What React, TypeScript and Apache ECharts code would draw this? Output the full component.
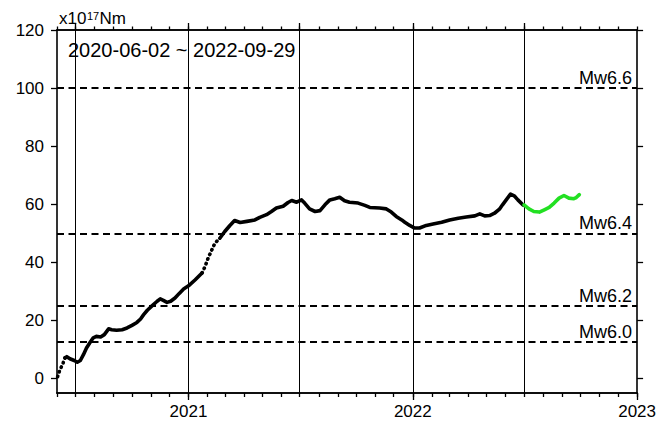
import React, { useEffect, useRef } from "react";
import * as echarts from "echarts";

// Cumulative moment (x10^17 Nm), black part
const BLACK_DATES = [
  "2020-06-02", "2020-06-06", "2020-06-10", "2020-06-14", "2020-06-17", "2020-06-22", "2020-06-29",
  "2020-07-04", "2020-07-09", "2020-07-14", "2020-07-19", "2020-07-25", "2020-07-30", "2020-08-04",
  "2020-08-11", "2020-08-17", "2020-08-24", "2020-08-29", "2020-09-06", "2020-09-15", "2020-09-23",
  "2020-10-01", "2020-10-09", "2020-10-15", "2020-10-20", "2020-10-26", "2020-11-03", "2020-11-11",
  "2020-11-16", "2020-11-21", "2020-11-27", "2020-12-03", "2020-12-10", "2020-12-17", "2020-12-24",
  "2021-01-01", "2021-01-12", "2021-01-23", "2021-01-28", "2021-02-02", "2021-02-08", "2021-02-13",
  "2021-02-21", "2021-03-01", "2021-03-09", "2021-03-17", "2021-03-26", "2021-04-06", "2021-04-19",
  "2021-04-27", "2021-05-08", "2021-05-16", "2021-05-24", "2021-06-04", "2021-06-12", "2021-06-18",
  "2021-06-26", "2021-07-04", "2021-07-09", "2021-07-17", "2021-07-26", "2021-08-03", "2021-08-11",
  "2021-08-19", "2021-08-27", "2021-09-04", "2021-09-12", "2021-09-20", "2021-10-04", "2021-10-15",
  "2021-10-23", "2021-11-08", "2021-11-19", "2021-11-27", "2021-12-05", "2021-12-14", "2021-12-19",
  "2021-12-27", "2022-01-04", "2022-01-12", "2022-01-23", "2022-02-03", "2022-02-17", "2022-03-02",
  "2022-03-16", "2022-03-29", "2022-04-12", "2022-04-20", "2022-04-28", "2022-05-06", "2022-05-14",
  "2022-05-22", "2022-05-27", "2022-06-02", "2022-06-09", "2022-06-15", "2022-06-21", "2022-06-29",
  "2022-07-01",
];
const BLACK_VALUES = [
  0.6, 3.1, 4.8, 7.1, 7.5, 6.8, 6.2,
  5.6, 6.2, 8.2, 10.5, 12.5, 14.0, 14.5,
  14.3, 15.1, 17.1, 16.8, 16.6, 16.8, 17.4,
  18.3, 19.3, 20.5, 22.0, 23.5, 25.1, 26.6,
  27.4, 26.9, 26.2, 26.6, 27.7, 29.3, 30.8,
  31.9, 34.0, 36.3, 38.6, 41.5, 44.3, 46.6,
  48.3, 50.6, 52.6, 54.4, 53.7, 54.1, 54.6,
  55.5, 56.4, 57.5, 58.7, 59.3, 60.6, 61.3,
  60.7, 61.5, 60.4, 58.4, 57.5, 57.8, 59.8,
  61.5, 61.9, 62.4, 61.2, 60.7, 60.4, 59.6,
  58.9, 58.7, 58.4, 57.3, 55.8, 54.6, 53.8,
  52.7, 51.8, 51.8, 52.7, 53.2, 53.8, 54.6,
  55.2, 55.6, 56.0, 56.7, 56.0, 56.1, 56.9,
  58.3, 59.8, 61.5, 63.5, 62.9, 61.5, 59.8,
  59.6,
];

// Green (latest) part
const GREEN_DATES = [
  "2022-07-01", "2022-07-09", "2022-07-17", "2022-07-26", "2022-08-03", "2022-08-11", "2022-08-19",
  "2022-08-27", "2022-09-04", "2022-09-12", "2022-09-20", "2022-09-24", "2022-09-29",
];
const GREEN_VALUES = [59.8, 58.4, 57.5, 57.3, 58.1, 58.9, 60.4, 62.1, 63.0, 62.1, 61.9, 62.3, 63.3];

// Stretches where the daily dots are visibly separated (fast growth)
const SPARSE_RANGES = [
  ["2020-06-02", "2020-06-14"],
  ["2021-01-23", "2021-02-21"],
];

// Reference magnitude levels
const LEVEL_NAMES = ["Mw6.6", "Mw6.4", "Mw6.2", "Mw6.0"];
const LEVEL_VALUES = [100, 50, 25, 12.5];

const HALF_YEAR_LINES = ["2020-07-01", "2021-01-01", "2021-07-01", "2022-01-01", "2022-07-01"];
const YEAR_TICKS = ["2021-01-01", "2022-01-01", "2023-01-01"];
const Y_TICKS = [0, 20, 40, 60, 80, 100, 120];

const X_MIN = "2020-06-01";
const X_MAX = "2023-01-01";
const TITLE = "2020-06-02 ~ 2022-09-29";

const parse = (s: string) => {
  const [y, m, d] = s.split("-").map(Number);
  return Date.UTC(y, m - 1, d);
};

const monthTicks = () => {
  const out: number[] = [];
  for (let y = 2020; y <= 2023; y++) {
    for (let m = 0; m < 12; m++) {
      const t = Date.UTC(y, m, 1);
      if (t >= parse(X_MIN) && t <= parse(X_MAX)) out.push(t);
    }
  }
  return out;
};

// Split the black series into solid / sparse pieces
const blackPieces = () => {
  const pts = BLACK_DATES.map((d, i) => [parse(d), BLACK_VALUES[i]]);
  const ranges = SPARSE_RANGES.map(([a, b]) => [parse(a), parse(b)]);
  const pieces: { sparse: boolean; data: number[][] }[] = [];
  let cur: { sparse: boolean; data: number[][] } | null = null;
  for (let i = 0; i < pts.length - 1; i++) {
    const a = pts[i][0];
    const b = pts[i + 1][0];
    const sparse = ranges.some(([s, e]) => a >= s && b <= e);
    if (!cur || cur.sparse !== sparse) {
      cur = { sparse, data: [pts[i]] };
      pieces.push(cur);
    }
    cur.data.push(pts[i + 1]);
  }
  return pieces;
};

export default function App() {
  const ref = useRef<HTMLDivElement>(null);
  useEffect(() => {
    if (!ref.current) return;
    const chart = echarts.init(ref.current, undefined, { renderer: "svg" });
    const xmin = parse(X_MIN);
    const xmax = parse(X_MAX);
    const months = monthTicks();
    const font = "'Liberation Sans', Arial, Helvetica, sans-serif";
    const axisLine = { show: true, onZero: false, lineStyle: { color: "#000", width: 1.6 } };
    const tickStyle = { color: "#000", width: 1.3 };

    const baseX = {
      type: "value" as const,
      min: xmin,
      max: xmax,
      splitLine: { show: false },
      axisLine,
    };

    const option: any = {
      animation: false,
      textStyle: { fontFamily: font },
      grid: { left: 57, right: 20, top: 30, bottom: 29, containLabel: false },
      xAxis: [
        {
          ...baseX,
          position: "bottom",
          axisTick: { show: true, inside: false, length: 7, customValues: YEAR_TICKS.map(parse), lineStyle: tickStyle },
          axisLabel: {
            show: true,
            customValues: YEAR_TICKS.map(parse),
            formatter: (v: number) => String(new Date(v).getUTCFullYear()),
            color: "#000",
            fontSize: 17,
            fontFamily: font,
            margin: 10,
          },
        },
        {
          ...baseX,
          position: "bottom",
          axisTick: { show: true, inside: false, length: 4, customValues: months, lineStyle: tickStyle },
          axisLabel: { show: false, customValues: months },
        },
        {
          ...baseX,
          position: "top",
          axisTick: { show: true, inside: false, length: 7, customValues: HALF_YEAR_LINES.map(parse), lineStyle: tickStyle },
          axisLabel: { show: false, customValues: HALF_YEAR_LINES.map(parse) },
        },
        {
          ...baseX,
          position: "top",
          axisTick: { show: true, inside: false, length: 3.5, customValues: months, lineStyle: tickStyle },
          axisLabel: { show: false, customValues: months },
        },
      ],
      yAxis: [
        {
          type: "value",
          min: -5,
          max: 120,
          position: "left",
          splitLine: { show: false },
          axisLine,
          axisTick: { show: true, length: 6, customValues: Y_TICKS, lineStyle: tickStyle },
          axisLabel: {
            show: true,
            customValues: Y_TICKS,
            color: "#000",
            fontSize: 17,
            fontFamily: font,
            margin: 13,
          },
        },
        {
          type: "value",
          min: -5,
          max: 120,
          position: "right",
          splitLine: { show: false },
          axisLine,
          axisTick: { show: true, length: 6, customValues: Y_TICKS, lineStyle: tickStyle },
          axisLabel: { show: false, customValues: Y_TICKS },
        },
      ],
      series: [
        {
          type: "line",
          xAxisIndex: 0,
          yAxisIndex: 0,
          data: [],
          silent: true,
          markLine: {
            silent: true,
            symbol: ["none", "none"],
            animation: false,
            data: [
              ...HALF_YEAR_LINES.map((d) => ({
                xAxis: parse(d),
                lineStyle: { color: "#000", width: 1, type: "solid" },
                label: { show: false },
              })),
              ...LEVEL_VALUES.map((v, i) => ({
                yAxis: v,
                name: LEVEL_NAMES[i],
                lineStyle: { color: "#000", width: 2.2, type: [7, 4.5] },
                label: {
                  show: true,
                  formatter: LEVEL_NAMES[i],
                  position: "insideEndTop",
                  distance: [5, 1],
                  color: "#000",
                  fontSize: 18,
                  fontFamily: font,
                },
              })),
            ],
          },
        },
        ...blackPieces().map((p) => ({
          type: "line",
          xAxisIndex: 0,
          yAxisIndex: 0,
          data: p.data,
          showSymbol: false,
          silent: true,
          lineStyle: {
            color: "#000",
            width: 3.6,
            cap: "round",
            join: "round",
            type: p.sparse ? [0.5, 4.5] : "solid",
          },
          z: 5,
        })),
        {
          type: "line",
          xAxisIndex: 0,
          yAxisIndex: 0,
          data: GREEN_DATES.map((d, i) => [parse(d), GREEN_VALUES[i]]),
          showSymbol: false,
          silent: true,
          lineStyle: { color: "#22e022", width: 3.6, cap: "round", join: "round" },
          z: 6,
        },
      ],
      graphic: [
        {
          type: "text",
          left: 68,
          top: 40,
          style: { text: TITLE, font: `20px ${font}`, fill: "#000" },
          z: 10,
        },
        {
          type: "text",
          x: 59,
          y: 18.5,
          style: { text: "x10", font: `17px ${font}`, fill: "#000", verticalAlign: "middle" },
        },
        {
          type: "text",
          x: 87,
          y: 16,
          style: { text: "17", font: `11px ${font}`, fill: "#000", verticalAlign: "middle" },
        },
        {
          type: "text",
          x: 99.5,
          y: 18.5,
          style: { text: "Nm", font: `17px ${font}`, fill: "#000", verticalAlign: "middle" },
        },
      ],
    };
    chart.setOption(option);
    return () => chart.dispose();
  }, []);
  return <div ref={ref} style={{ width: 659, height: 422, position: "absolute", left: 0, top: 0 }} />;
}
